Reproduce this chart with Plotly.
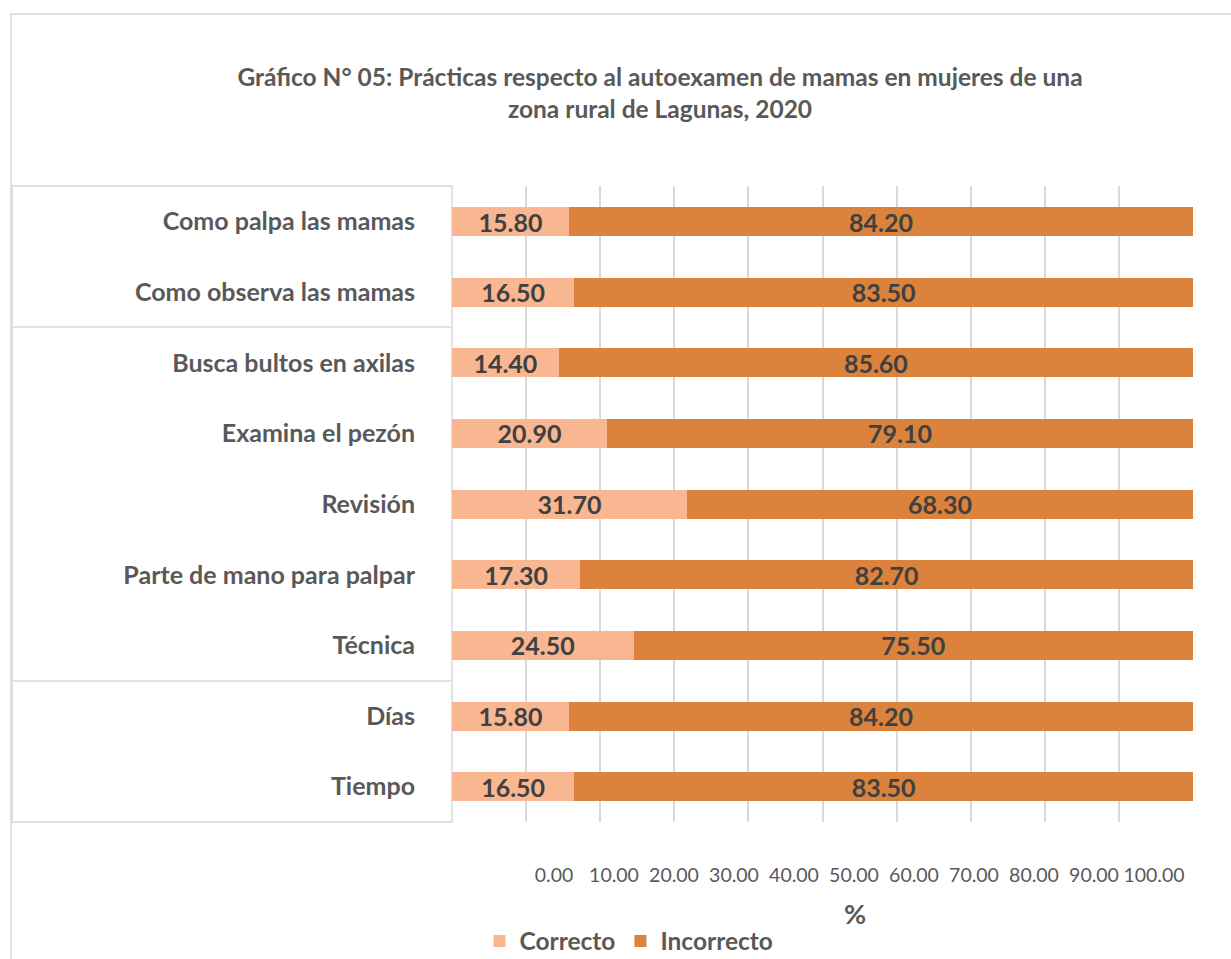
"""Stacked horizontal bars: breast self-exam practices, rural Lagunas 2020."""
import plotly.graph_objects as go

CATEGORIES = [
    "Como palpa las mamas",
    "Como observa las mamas",
    "Busca bultos en axilas",
    "Examina el pezón",
    "Revisión",
    "Parte de mano para palpar",
    "Técnica",
    "Días",
    "Tiempo",
]
correcto = [15.80, 16.50, 14.40, 20.90, 31.70, 17.30, 24.50, 15.80, 16.50]
incorrecto = [84.20, 83.50, 85.60, 79.10, 68.30, 82.70, 75.50, 84.20, 83.50]
tick_values = [0, 10, 20, 30, 40, 50, 60, 70, 80, 90, 100]
tick_labels = [f"{v:.2f}" for v in tick_values]

FONT = "Lato"
GREY = "#595959"
LINE = "#d9d9d9"

# plot area in pixels (Excel-like layout)
W, H = 1231, 959
PL, PR, PT, PB = 452, 1193, 186, 822
pw, ph = PR - PL, PB - PT


def px_x(x):
    return (x - PL) / pw


def px_y(y):
    return (PB - y) / ph


fig = go.Figure()

for name, vals, color in (("Correcto", correcto, "#F8B691"),
                          ("Incorrecto", incorrecto, "#DB823C")):
    fig.add_trace(go.Bar(
        y=CATEGORIES, x=vals, name=name, orientation="h",
        marker=dict(color=color, line=dict(width=0)),
        texttemplate="%{x:.2f}", textposition="inside",
        insidetextanchor="middle", constraintext="none",
        textfont=dict(family=FONT, size=25, color="#404040", weight="bold"),
    ))

# carrier for the (offset) tick-label axis
fig.add_trace(go.Scatter(
    x=[0, 100], y=[CATEGORIES[0], CATEGORIES[0]], xaxis="x2", mode="markers",
    marker=dict(opacity=0), showlegend=False, hoverinfo="skip",
))

# outer chart frame
fig.add_shape(type="rect", xref="paper", yref="paper",
              x0=px_x(11), x1=px_x(1260), y0=px_y(14), y1=px_y(990),
              line=dict(color=LINE, width=1.5), layer="below")
# category group box
fig.add_shape(type="rect", xref="paper", yref="paper",
              x0=px_x(12), x1=px_x(452), y0=px_y(186), y1=px_y(822),
              line=dict(color=LINE, width=1.5), layer="below")
for yy in (327, 681):
    fig.add_shape(type="line", xref="paper", yref="paper",
                  x0=px_x(12), x1=px_x(452), y0=px_y(yy), y1=px_y(yy),
                  line=dict(color=LINE, width=1.5), layer="below")

fig.add_annotation(text="<b>%</b>", xref="paper", yref="paper",
                   x=px_x(855), y=px_y(913), xanchor="center", yanchor="middle",
                   showarrow=False, font=dict(family=FONT, size=27, color=GREY))

fig.update_layout(
    width=W, height=H,
    margin=dict(l=PL, r=W - PR, t=PT, b=H - PB, autoexpand=False),
    paper_bgcolor="white", plot_bgcolor="rgba(0,0,0,0)",
    barmode="stack", bargap=0.59,
    title=dict(
        text="<b>Gráfico N° 05: Prácticas respecto al autoexamen de mamas en mujeres de una<br>"
             "zona rural de Lagunas, 2020</b>",
        xref="container", yref="container", x=660 / W, y=1 - 86 / H,
        xanchor="center", yanchor="middle",
        font=dict(family=FONT, size=24.5, color=GREY),
    ),
    font=dict(family=FONT, color=GREY),
    xaxis=dict(range=[0, 100], tickvals=tick_values, showticklabels=False,
               showgrid=True, gridcolor=LINE, gridwidth=1.5,
               zeroline=False, showline=False, fixedrange=True),
    xaxis2=dict(domain=[px_x(554), px_x(1154)], anchor="y", range=[0, 100],
                tickvals=tick_values, ticktext=tick_labels, showgrid=False,
                zeroline=False, showline=False, ticks="",
                ticklabelstandoff=39,
                tickfont=dict(family=FONT, size=19.5, color=GREY)),
    yaxis=dict(categoryorder="array", categoryarray=CATEGORIES,
               autorange="reversed", showgrid=False, zeroline=False,
               showline=False, ticks="", ticklabelstandoff=36,
               tickfont=dict(family=FONT, size=25, color=GREY, weight="bold")),
    legend=dict(orientation="h", xanchor="center", yanchor="middle",
                x=px_x(629), y=px_y(941),
                font=dict(family=FONT, size=24.5, color=GREY, weight="bold"),
                itemwidth=30, traceorder="normal"),
    showlegend=True,
)

fig.write_html("out.html", config={"displayModeBar": False},
               post_script="document.body.style.margin = '0';")
